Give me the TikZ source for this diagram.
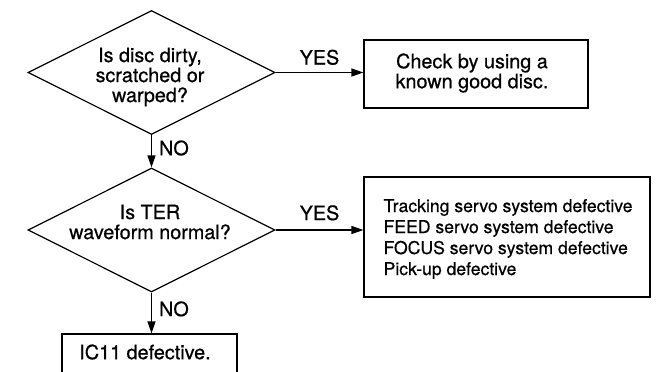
\documentclass[tikz,border=0pt]{standalone}
\usepackage{fontspec}
\setmainfont{TeX Gyre Heros}[FakeBold=0.6]
\usetikzlibrary{shapes.geometric,arrows.meta}
\begin{document}
\begin{tikzpicture}[x=1pt,y=-1pt,
  line width=1.2pt,
  dia/.style={draw,diamond,inner sep=0pt,minimum width=247pt,minimum height=124pt},
  box/.style={draw,rectangle,inner sep=0pt},
  txt/.style={font=\fontsize{19.8}{20}\selectfont,align=center,inner sep=0pt},
  small/.style={font=\fontsize{17.6}{21}\selectfont,align=left,inner sep=0pt},
  lab/.style={font=\fontsize{19.8}{20}\selectfont,inner sep=0pt},
  arr/.style={-{Triangle[length=12pt,width=8pt]}}]
\clip (0,0) rectangle (659,372);
\fill[white] (0,0) rectangle (659,372);
\node[dia] (d1) at (151.5,72.5) {};
\node[txt] (t1) at (150,77) {Is disc dirty,\\scratched or\\warped?};
\node[dia] (d2) at (151.5,230) {};
\node[txt] (t2) at (150,222) {Is TER\\waveform normal?};
\node[box,minimum width=224pt,minimum height=68pt] (b1) at (476,74) {};
\node[txt] (t3) at (472,73) {Check by using a\\known good disc.};
\node[box,minimum width=286pt,minimum height=120pt] (b2) at (507,237) {};
\node[small,anchor=west] (t4) at (383,239) {Tracking servo system defective\\FEED servo system defective\\FOCUS servo system defective\\Pick-up defective};
\node[box,minimum width=175pt,minimum height=80pt] (b3) at (149.5,374) {};
\node[txt] (t5) at (145,352) {IC11 defective.};
\draw[arr] (d1.east) -- (d1.east -| b1.west) node[lab,midway,above=7pt] (y1) {YES};
\draw[arr] (d2.east) -- (d2.east -| b2.west) node[lab,midway,above=9pt] (y2) {YES};
\draw[arr] (d1.south) -- (d2.north) node[lab,pos=0.4,right=7pt] (n1) {NO};
\draw[arr] (d2.south) -- (d2.south |- b3.north) node[lab,pos=0.4,right=7pt] (n2) {NO};
\end{tikzpicture}
\end{document}
